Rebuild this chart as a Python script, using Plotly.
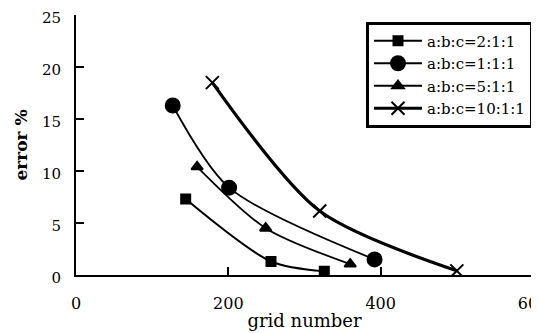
import plotly.graph_objects as go

names = ["a:b:c=2:1:1", "a:b:c=1:1:1", "a:b:c=5:1:1", "a:b:c=10:1:1"]
x_211 = [144, 256, 326]
y_211 = [7.3, 1.3, 0.35]
x_111 = [127, 201, 392]
y_111 = [16.3, 8.4, 1.5]
x_511 = [159, 249, 360]
y_511 = [10.4, 4.5, 1.05]
x_1011 = [179, 320, 500]
y_1011 = [18.5, 6.15, 0.4]

xs = [x_211, x_111, x_511, x_1011]
ys = [y_211, y_111, y_511, y_1011]
symbols = ["square", "circle", "triangle-up", "x-thin-open"]
msizes = [9, 14, 10, 13]
lwidths = [2, 1.8, 1.8, 3.2]

fig = go.Figure()
for n, x, y, s, ms, lw in zip(names, xs, ys, symbols, msizes, lwidths):
    fig.add_trace(go.Scatter(
        x=x, y=y, name=n, mode="lines+markers",
        line=dict(color="black", width=lw, shape="spline", smoothing=0.8),
        marker=dict(symbol=s, size=ms, color="black",
                    line=dict(color="black", width=2)),
    ))

font = "DejaVu Serif, Liberation Serif, serif"
fig.update_layout(
    width=531, height=325,
    margin=dict(l=68, r=6, t=7, b=58),
    paper_bgcolor="white", plot_bgcolor="white",
    font=dict(family=font, size=16, color="black"),
    showlegend=True,
    legend=dict(x=1.0, y=0.975, xanchor="right", yanchor="top",
                bordercolor="black", borderwidth=3, bgcolor="white",
                font=dict(family=font, size=15), tracegroupgap=0,
                itemwidth=48),
    xaxis=dict(range=[0, 600], tickvals=[0, 200, 400, 600],
               ticks="inside", ticklen=8, tickwidth=2, tickcolor="black",
               showline=True, linecolor="black", linewidth=2,
               showgrid=False, zeroline=False, automargin=False,
               ticklabeloverflow="allow",
               tickfont=dict(family=font, size=16), ticklabelstandoff=13,
               title=dict(text="grid number", font=dict(family=font, size=18), standoff=2)),
    yaxis=dict(range=[0, 25], tickvals=[0, 5, 10, 15, 20, 25],
               ticks="inside", ticklen=8, tickwidth=2, tickcolor="black",
               showline=True, linecolor="black", linewidth=2,
               showgrid=False, zeroline=False, automargin=False,
               ticklabeloverflow="allow", ticklabelshift=3,
               tickfont=dict(family=font, size=15), ticklabelstandoff=10,
               title=dict(text="<b>error %</b>", font=dict(family=font, size=17), standoff=10)),
)
fig.write_html("out.html")
